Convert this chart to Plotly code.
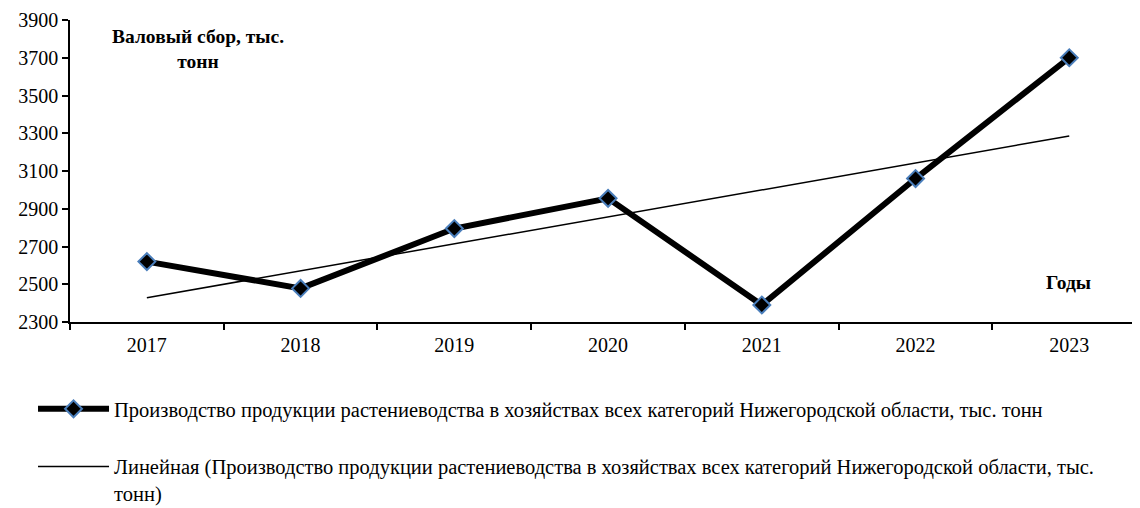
import numpy as np
import plotly.graph_objects as go

years = ["2017", "2018", "2019", "2020", "2021", "2022", "2023"]
production = [2620, 2478, 2795, 2955, 2390, 3060, 3700]
y_ticks = [2300, 2500, 2700, 2900, 3100, 3300, 3500, 3700, 3900]

series_name = ("Производство продукции растениеводства в хозяйствах всех категорий "
               "Нижегородской области, тыс. тонн")
trend_name = ("Линейная (Производство продукции растениеводства в хозяйствах всех категорий "
              "Нижегородской области, тыс.<br>тонн)")

idx = np.arange(1, len(years) + 1)
slope, intercept = np.polyfit(idx, production, 1)
trend = slope * idx + intercept

FONT = "Times New Roman, Liberation Serif, serif"

fig = go.Figure()
fig.add_trace(go.Scatter(
    x=years, y=production, mode="lines+markers", name=series_name,
    legendgroup="a",
    line=dict(color="black", width=6),
    marker=dict(symbol="diamond", size=13, color="black",
                line=dict(color="#4A7EBB", width=2)),
))
fig.add_trace(go.Scatter(
    x=years, y=trend, mode="lines", name=trend_name,
    legendgroup="b",
    line=dict(color="black", width=1.5),
))

fig.add_annotation(x=0.12, y=0.904, xref="paper", yref="paper",
                   xanchor="center", yanchor="middle",
                   text="<b>Валовый сбор, тыс.<br>тонн</b>", showarrow=False,
                   font=dict(family=FONT, size=19.5, color="black"), align="center")
fig.add_annotation(x=0.933, y=0.132, xref="paper", yref="paper",
                   xanchor="center", yanchor="middle",
                   text="<b>Годы</b>", showarrow=False,
                   font=dict(family=FONT, size=19.5, color="black"))

fig.update_layout(
    width=1132, height=500,
    margin=dict(l=62, r=0, t=12, b=186, autoexpand=False),
    paper_bgcolor="white", plot_bgcolor="white",
    font=dict(family=FONT, size=20, color="black"),
    showlegend=True,
    legend=dict(
        xref="container", yref="container", x=0.0221, y=0.238,
        xanchor="left", yanchor="top",
        font=dict(family=FONT, size=20.5, color="black"),
        tracegroupgap=28, itemwidth=71, valign="top",
        bgcolor="rgba(0,0,0,0)",
    ),
    xaxis=dict(
        type="category", tickson="boundaries", range=[-0.5, 6.46],
        showline=True, linecolor="black", linewidth=1.5,
        ticks="outside", ticklen=6, tickcolor="black", tickwidth=1.5,
        ticklabelstandoff=4,
        showgrid=False, zeroline=False,
        tickfont=dict(family=FONT, size=20, color="black"),
    ),
    yaxis=dict(
        range=[2300, 3900], tickvals=y_ticks,
        showline=True, linecolor="black", linewidth=1.5,
        ticks="outside", ticklen=6, tickcolor="black", tickwidth=1.5,
        showgrid=False, zeroline=False,
        tickfont=dict(family=FONT, size=20, color="black"),
    ),
)

fig.write_html("out.html")
